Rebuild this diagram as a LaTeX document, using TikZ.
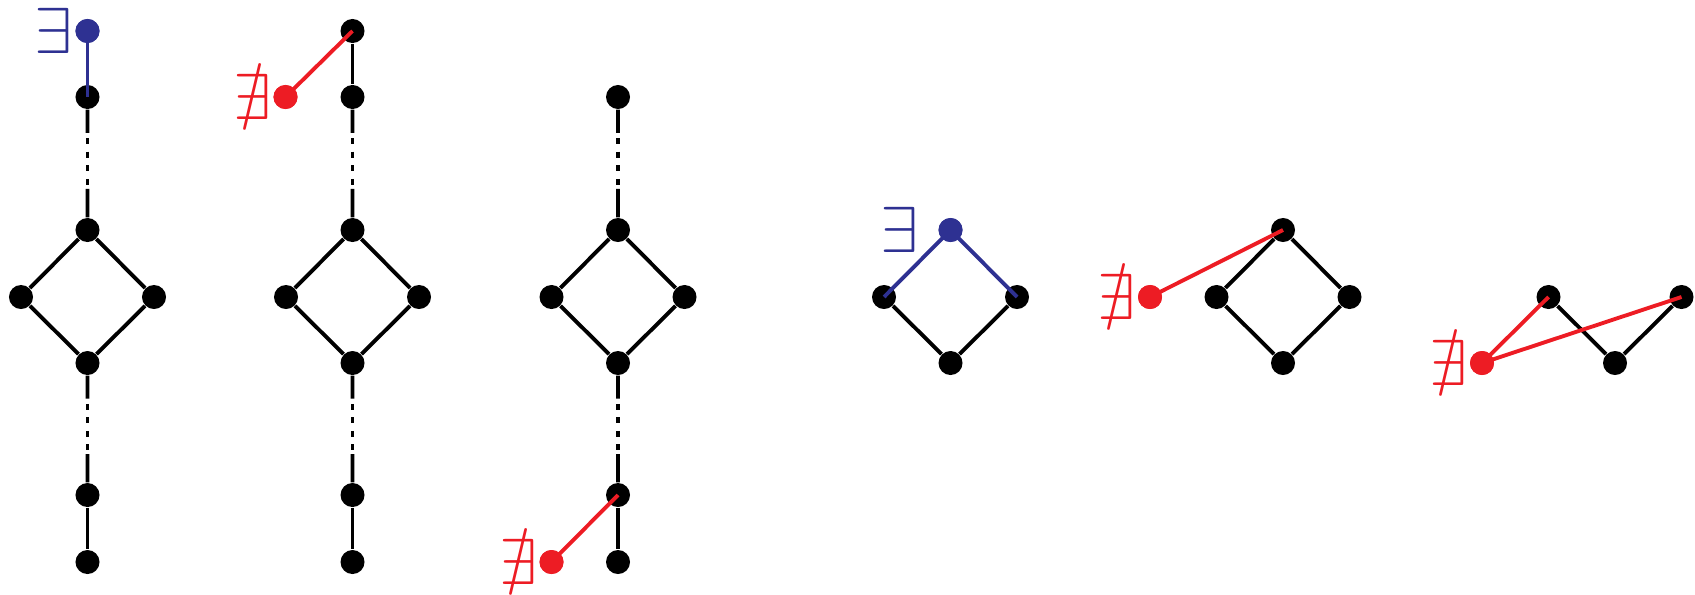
\documentclass[tikz,border=0pt]{standalone}
\usepackage{amssymb,graphicx}
\usetikzlibrary{calc,backgrounds}
\definecolor{exblue}{RGB}{46,49,146}
\definecolor{nored}{RGB}{237,28,36}
\tikzset{
 dot/.style={circle,fill=black,inner sep=0pt,minimum size=0.24cm},
 bluedot/.style={dot,fill=exblue},
 reddot/.style={dot,fill=nored},
 edge/.style={line width=1.1pt,black},
 blueedge/.style={line width=1.1pt,exblue},
 rededge/.style={line width=1.1pt,nored},
 exlab/.style={inner sep=0pt,text=exblue},
 nexlab/.style={inner sep=0pt,text=nored},
}
\newcommand{\exsym}{\scalebox{1.95}[1.85]{$\exists$}}
\newcommand{\nexsym}{\scalebox{1.95}[1.85]{$\nexists$}}
\newcommand{\chainedge}[2]{%
 \draw[edge] (#1) -- ($(#1)!0.27!(#2)$);
 \draw[edge,dash pattern=on 0.06cm off 0.075cm] ($(#1)!0.31!(#2)$) -- ($(#1)!0.67!(#2)$);
 \draw[edge] ($(#1)!0.69!(#2)$) -- (#2);}
\begin{document}
\begin{tikzpicture}[x=0.01cm,y=-0.01cm]
\useasboundingbox (0,0) rectangle (1695,594);
% graph 1
\node[bluedot] (a1) at (87.5,31) {};
\node[dot] (b1) at (87.5,97) {};
\node[dot] (t1) at (87.5,230) {};
\node[dot] (l1) at (21,297) {};
\node[dot] (r1) at (154,297) {};
\node[dot] (d1) at (87.5,363) {};
\node[dot] (e1) at (87.5,495) {};
\node[dot] (f1) at (87.5,562) {};
\node[exlab] (x1) at (53.5,31) {\exsym};
% graph 2
\node[dot] (a2) at (352.5,31) {};
\node[dot] (b2) at (352.5,97) {};
\node[dot] (t2) at (352.5,230) {};
\node[dot] (l2) at (286,297) {};
\node[dot] (r2) at (419,297) {};
\node[dot] (d2) at (352.5,363) {};
\node[dot] (e2) at (352.5,495) {};
\node[dot] (f2) at (352.5,562) {};
\node[reddot] (p2) at (285.5,97) {};
\node[nexlab] (x2) at (253,97) {\nexsym};
% graph 3
\node[dot] (b3) at (618,97) {};
\node[dot] (t3) at (618,230) {};
\node[dot] (l3) at (551.5,297) {};
\node[dot] (r3) at (684.5,297) {};
\node[dot] (d3) at (618,363) {};
\node[dot] (e3) at (618,495) {};
\node[dot] (f3) at (618,562) {};
\node[reddot] (p3) at (551.5,562) {};
\node[nexlab] (x3) at (519,562) {\nexsym};
% graph 4
\node[bluedot] (t4) at (950.5,230) {};
\node[dot] (l4) at (884,297) {};
\node[dot] (r4) at (1017,297) {};
\node[dot] (d4) at (950.5,363) {};
\node[exlab] (x4) at (900,230) {\exsym};
% graph 5
\node[dot] (t5) at (1283,230) {};
\node[dot] (l5) at (1216.5,297) {};
\node[dot] (r5) at (1349.5,297) {};
\node[dot] (d5) at (1283,363) {};
\node[reddot] (p5) at (1150,297) {};
\node[nexlab] (x5) at (1117,297) {\nexsym};
% graph 6
\node[dot] (a6) at (1548.5,297) {};
\node[dot] (b6) at (1615,363) {};
\node[dot] (c6) at (1681.5,297) {};
\node[reddot] (p6) at (1482,363) {};
\node[nexlab] (x6) at (1449,363) {\nexsym};
\begin{pgfonlayer}{background}
 % graph 1
 \chainedge{b1}{t1}
 \draw[edge] (t1) -- (l1) -- (d1) -- (r1) -- (t1);
 \chainedge{d1}{e1}
 \draw[edge] (e1) -- (f1);
 % graph 2
 \draw[edge] (a2) -- (b2);
 \chainedge{b2}{t2}
 \draw[edge] (t2) -- (l2) -- (d2) -- (r2) -- (t2);
 \chainedge{d2}{e2}
 \draw[edge] (e2) -- (f2);
 % graph 3
 \chainedge{b3}{t3}
 \draw[edge] (t3) -- (l3) -- (d3) -- (r3) -- (t3);
 \chainedge{d3}{e3}
 \draw[edge] (e3) -- (f3);
 % graph 4
 \draw[edge] (l4) -- (d4) -- (r4);
 % graph 5
 \draw[edge] (t5) -- (l5) -- (d5) -- (r5) -- (t5);
 % graph 6
 \draw[edge] (a6) -- (b6) -- (c6);
\end{pgfonlayer}
% coloured connectors
\draw[blueedge] (a1.center) -- (b1.center);
\draw[rededge] (p2.center) -- (a2.center);
\draw[rededge] (p3.center) -- (e3.center);
\draw[blueedge] (l4.center) -- (t4.center) -- (r4.center);
\draw[rededge] (p5.center) -- (t5.center);
\draw[rededge] (a6.center) -- (p6.center) -- (c6.center);
\node[bluedot] at (a1) {};
\node[reddot] at (p2) {};
\node[reddot] at (p3) {};
\node[bluedot] at (t4) {};
\node[reddot] at (p5) {};
\node[reddot] at (p6) {};
\end{tikzpicture}
\end{document}
